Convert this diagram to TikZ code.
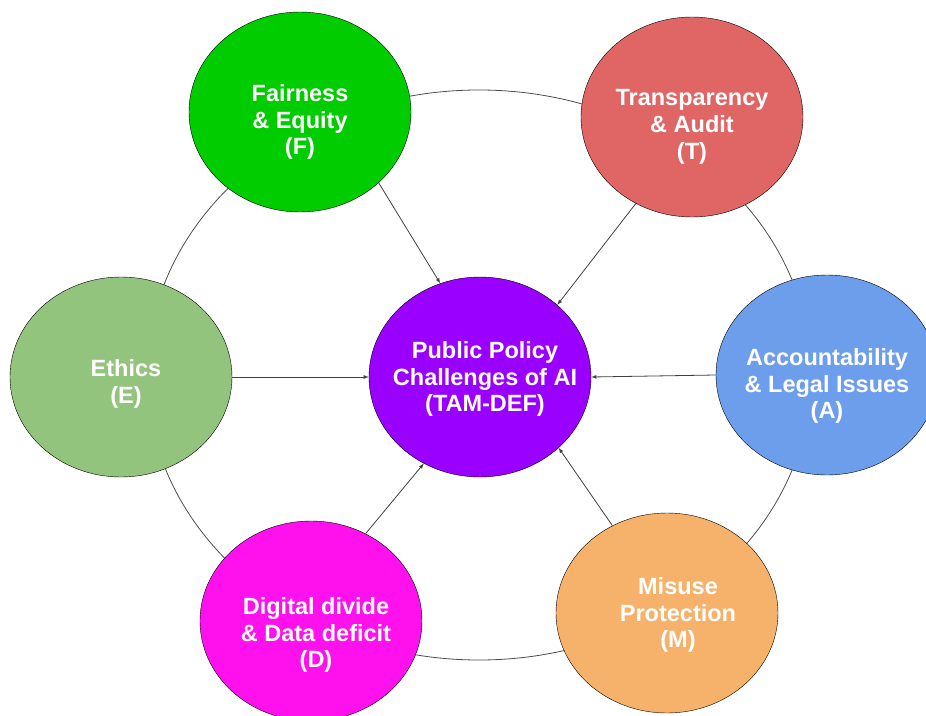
\documentclass[tikz,border=0pt]{standalone}
\usepackage{fontspec}
\setmainfont{Liberation Sans}
\usetikzlibrary{shapes,arrows}
\definecolor{fairgreen}{HTML}{00CC00}
\definecolor{transred}{HTML}{E06666}
\definecolor{accblue}{HTML}{6D9EEB}
\definecolor{ethgreen}{HTML}{93C47D}
\definecolor{digmagenta}{HTML}{FF11EE}
\definecolor{misorange}{HTML}{F6B26B}
\definecolor{polpurple}{HTML}{9900FF}
\tikzset{
  topic/.style = {draw, ellipse, minimum width = 222pt, minimum height = 200pt, inner sep = 0pt},
  every label/.style = {text = white, align = center, inner sep = 0pt,
                        font = \fontsize{23.5}{26.7}\selectfont\bfseries},
  ring/.style  = {draw = black!70, line width = 0.8pt},
  link/.style  = {->, draw = black!75, line width = 0.8pt}
}

\begin{document}
\begin{tikzpicture}[x=1pt, y=1pt, >=latex]
\useasboundingbox (-480,-338) rectangle (446,377);

% Ring behind the topics
\draw[ring] (-1,2) ellipse [x radius=332, y radius=285];

% Centre
\draw node [topic, fill=polpurple, label={[xshift=5pt, yshift=-2pt]center:Public Policy\\Challenges of AI\\(TAM-DEF)}] (c) at (0,0) {};

% Topics around the centre
\draw node [topic, fill=fairgreen, above of=c, xshift=-180pt, node distance=265pt,
            label={[yshift=-10pt]center:Fairness\\\& Equity\\(F)}] (f) {};
\draw node [topic, fill=transred, above of=c, xshift=212pt, node distance=260pt,
            label={[yshift=-10pt]center:Transparency\\\& Audit\\(T)}] (t) {};
\draw node [topic, fill=accblue, right of=c, yshift=2pt, node distance=347pt,
            label={[yshift=-11pt]center:Accountability\\\& Legal Issues\\(A)}] (a) {};
\draw node [topic, fill=misorange, below of=c, xshift=187pt, node distance=236pt,
            label={[xshift=11pt, yshift=-2pt]center:Misuse\\Protection\\(M)}] (m) {};
\draw node [topic, fill=digmagenta, below of=c, xshift=-169pt, node distance=244pt,
            label={[xshift=5pt, yshift=-14pt]center:Digital divide\\\& Data deficit\\(D)}] (d) {};
\draw node [topic, fill=ethgreen, left of=c, node distance=359pt,
            label={[xshift=5pt, yshift=-7pt]center:Ethics\\(E)}] (e) {};

% Connections
\draw[link](f.-42) -- node {}(c.113);
\draw[link](t.237) -- node {}(c.43);
\draw[link](a.west) -- node {}(c.east);
\draw[link](m.122) -- node {}(c.-42);
\draw[link](d.58) -- node {}(c.237);
\draw[link](e.east) -- node {}(c.west);

\end{tikzpicture}
\end{document}
